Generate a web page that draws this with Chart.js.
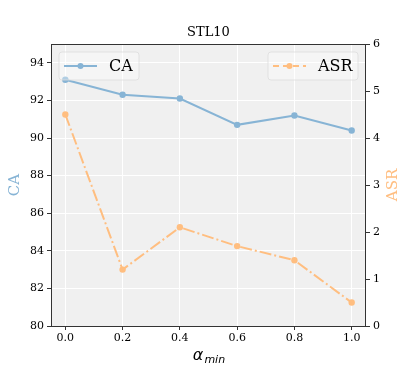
<!DOCTYPE html>
<html>
<head>
<meta charset="utf-8">
<script src="https://cdn.jsdelivr.net/npm/chart.js@4.4.0/dist/chart.umd.min.js"></script>
<style>html,body{margin:0;padding:0;background:#fff}</style>
</head>
<body>
<canvas id="grafica" width="407" height="366"></canvas>
<script>
// Datos
const alphaMin = [0.0, 0.2, 0.4, 0.6, 0.8, 1.0];
const caValues = [93.1, 92.3, 92.1, 90.7, 91.2, 90.4];
const asrValues = [4.5, 1.2, 2.1, 1.7, 1.4, 0.5];
const xTicks = [0.0, 0.2, 0.4, 0.6, 0.8, 1.0];
const caTicks = [80, 82, 84, 86, 88, 90, 92, 94];
const asrTicks = [0, 1, 2, 3, 4, 5, 6];

const colorCA = "rgb(135, 180, 213)";
const colorASR = "rgb(255, 190, 128)";
const serif = "'DejaVu Serif', serif";
const spine = "#333";

// Fondo, marco, titulos y leyendas dibujados a mano
const decor = {
  id: "decor",
  beforeDraw(chart) {
    const { ctx, chartArea: a } = chart;
    ctx.save();
    ctx.fillStyle = "#f0f0f0";
    ctx.fillRect(a.left, a.top, a.right - a.left, a.bottom - a.top);
    ctx.restore();
  },
  afterDraw(chart) {
    const { ctx, chartArea: a } = chart;
    ctx.save();
    ctx.strokeStyle = spine;
    ctx.lineWidth = 1;
    ctx.strokeRect(a.left + 0.5, a.top + 0.5, a.right - a.left - 1, a.bottom - a.top);

    ctx.fillStyle = "#000";
    ctx.textAlign = "center";
    ctx.textBaseline = "middle";
    ctx.font = "13px " + serif;
    ctx.fillText("STL10", (a.left + a.right) / 2, 33);

    // etiqueta eje x: alpha_min
    ctx.font = "italic 16px 'DejaVu Sans'";
    const wa = ctx.measureText("α").width;
    ctx.font = "italic 11px 'DejaVu Sans'";
    const wm = ctx.measureText("min").width;
    let x0 = (a.left + a.right) / 2 - (wa + wm) / 2;
    ctx.textAlign = "left";
    ctx.textBaseline = "alphabetic";
    ctx.font = "italic 16px 'DejaVu Sans'";
    ctx.fillText("α", x0, 360);
    ctx.font = "italic 11px 'DejaVu Sans'";
    ctx.fillText("min", x0 + wa + 1, 363);

    // titulos de ejes y
    ctx.textAlign = "center";
    ctx.textBaseline = "middle";
    ctx.font = "15px " + serif;
    ctx.translate(15, 185);
    ctx.rotate(-Math.PI / 2);
    ctx.fillStyle = colorCA;
    ctx.fillText("CA", 0, 0);
    ctx.setTransform(1, 0, 0, 1, 0, 0);
    ctx.translate(393, 185);
    ctx.rotate(-Math.PI / 2);
    ctx.fillStyle = colorASR;
    ctx.fillText("ASR", 0, 0);
    ctx.setTransform(1, 0, 0, 1, 0, 0);

    // leyendas
    drawLegend(ctx, 59, 52, 80, 28, "CA", colorCA, []);
    drawLegend(ctx, 268, 52, 90, 28, "ASR", colorASR, [6, 4]);
    ctx.restore();
  },
};

function drawLegend(ctx, x, y, w, h, label, color, dash) {
  ctx.save();
  ctx.beginPath();
  ctx.roundRect(x, y, w, h, 3);
  ctx.fillStyle = "rgba(255,255,255,0.35)";
  ctx.fill();
  ctx.strokeStyle = "rgba(220,220,220,0.8)";
  ctx.lineWidth = 1;
  ctx.stroke();
  const cy = y + h / 2;
  ctx.strokeStyle = color;
  ctx.lineWidth = 2;
  ctx.setLineDash(dash);
  ctx.beginPath();
  ctx.moveTo(x + 5, cy);
  ctx.lineTo(x + 38, cy);
  ctx.stroke();
  ctx.setLineDash([]);
  ctx.fillStyle = color;
  ctx.beginPath();
  ctx.arc(x + 21.5, cy, 3, 0, Math.PI * 2);
  ctx.fill();
  ctx.fillStyle = "#000";
  ctx.font = "16px " + serif;
  ctx.textAlign = "left";
  ctx.textBaseline = "middle";
  ctx.fillText(label, x + 50, cy + 1);
  ctx.restore();
}

const puntos = (vals) => alphaMin.map((a, i) => ({ x: a, y: vals[i] }));
const tickFont = { family: "DejaVu Serif", size: 11 };

new Chart(document.getElementById("grafica"), {
  type: "line",
  data: {
    datasets: [
      {
        label: "CA",
        data: puntos(caValues),
        yAxisID: "y",
        borderColor: colorCA,
        backgroundColor: colorCA,
        borderWidth: 2,
        pointRadius: 3.2,
        pointBorderWidth: 0,
        tension: 0,
      },
      {
        label: "ASR",
        data: puntos(asrValues),
        yAxisID: "y1",
        borderColor: colorASR,
        backgroundColor: colorASR,
        borderWidth: 2,
        borderDash: [12, 3, 2, 3],
        pointRadius: 3.2,
        pointBorderWidth: 0,
        tension: 0,
      },
    ],
  },
  options: {
    responsive: false,
    animation: false,
    layout: { padding: { top: 44, left: 0, right: 0, bottom: 0 } },
    plugins: { legend: { display: false }, title: { display: false }, tooltip: { enabled: false } },
    scales: {
      x: {
        type: "linear",
        min: -0.05,
        max: 1.05,
        afterBuildTicks: (s) => { s.ticks = xTicks.map((v) => ({ value: v })); },
        afterFit: (s) => { s.height = 40; },
        grid: { color: "#fff", lineWidth: 1, tickColor: spine, tickLength: 4 },
        border: { display: false },
        ticks: { font: tickFont, color: "#000", padding: 2, maxRotation: 0, callback: (v) => v.toFixed(1) },
      },
      y: {
        position: "left",
        min: 80,
        max: 95,
        afterBuildTicks: (s) => { s.ticks = caTicks.map((v) => ({ value: v })); },
        afterFit: (s) => { s.width = 51; },
        grid: { color: "#fff", lineWidth: 1, tickColor: spine, tickLength: 4 },
        border: { display: false },
        ticks: { font: tickFont, color: "#000", padding: 3 },
      },
      y1: {
        position: "right",
        min: 0,
        max: 6,
        afterBuildTicks: (s) => { s.ticks = asrTicks.map((v) => ({ value: v })); },
        afterFit: (s) => { s.width = 41; },
        grid: { drawOnChartArea: false, tickColor: spine, tickLength: 4 },
        border: { display: false },
        ticks: { font: tickFont, color: "#000", padding: 3 },
      },
    },
  },
  plugins: [decor],
});
</script>
</body>
</html>
